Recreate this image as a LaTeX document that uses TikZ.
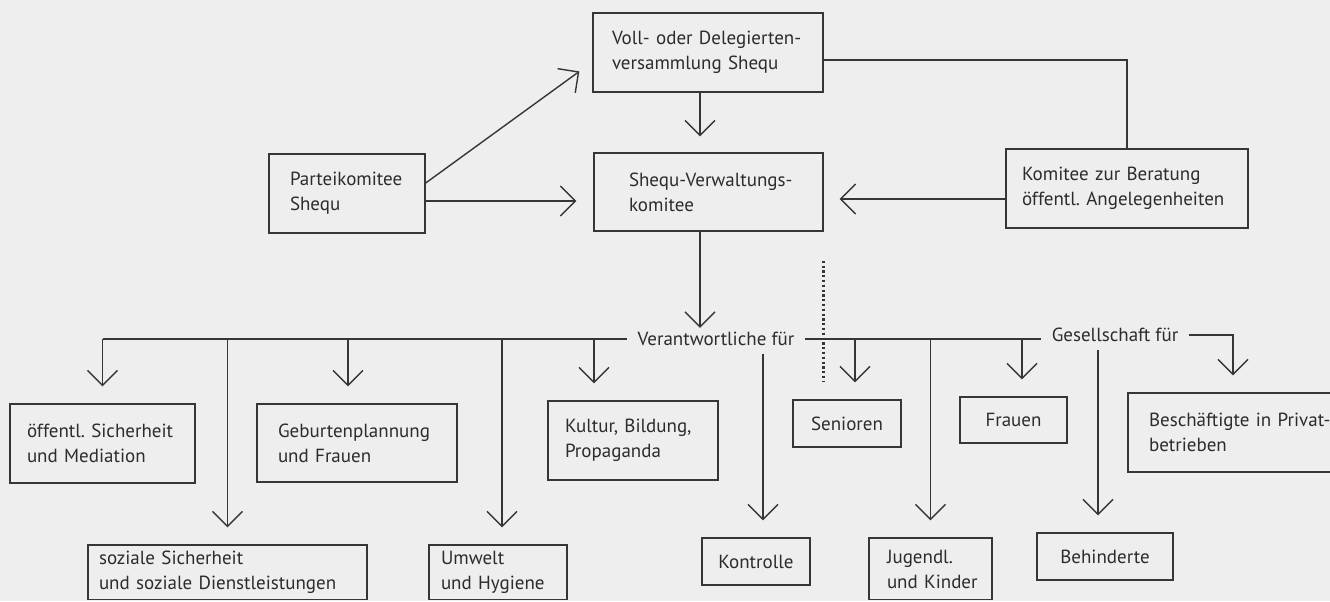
\documentclass[tikz,border=0pt]{standalone}
\usepackage{fontspec}
\setmainfont{PT Sans}
\frenchspacing
\usetikzlibrary{arrows.meta,calc}
\definecolor{ink}{HTML}{363636}
\definecolor{txt}{HTML}{2C2C2C}
\definecolor{paper}{HTML}{EEEEEE}
\tikzset{
  box/.style={draw=ink, line width=0.7pt, text=txt, rectangle, inner ysep=0pt,
    font=\fontsize{9.5}{12.5}\selectfont,
    execute at begin node={\exhyphenpenalty=10000 \hyphenpenalty=10000 \hbadness=10000 \hfuzz=200pt}},
  lbl/.style={text=txt, inner xsep=5pt, inner ysep=0pt, font=\fontsize{9.5}{12.5}\selectfont},
  conn/.style={draw=ink, line width=0.7pt},
  arr/.style={conn, -{Straight Barb[length=7.5pt,width=15pt,line width=0.7pt]}, shorten >=8.5pt},
  dotline/.style={draw=ink, line width=1.3pt, dash pattern=on 1.1pt off 1.3pt},
}
% \bx[options]{name}{x1}{y1}{x2}{y2}{pad}{text}   (pixel coordinates)
\newcommand\bx[8][align=left]{%
  \pgfmathsetmacro\bxcx{(#3+#5)/2}%
  \pgfmathsetmacro\bxcy{(#4+#6)/2}%
  \pgfmathsetmacro\bxtw{(#5-#3)*0.5-#7}%
  \pgfmathsetmacro\bxbh{(#6-#4)*0.5}%
  \pgfmathsetmacro\bxpad{#7*0.5}%
  \node[box,#1,inner xsep=\bxpad pt,text width=\bxtw pt,minimum height=\bxbh pt] (#2) at (\bxcx,\bxcy) {#8};%
}
\begin{document}
\begin{tikzpicture}[x=0.5pt,y=-0.5pt]
\useasboundingbox (0,0) rectangle (1330,601);
\fill[paper] (0,0) rectangle (1330,601);
\clip (0,0) rectangle (1330,599);

% top boxes
\bx{voll}{593}{13}{823}{92}{19}{\mbox{Voll- oder Delegierten-}\\\mbox{versammlung Shequ}}
\bx{verw}{594}{153}{823}{231}{35}{\mbox{Shequ-Verwaltungs-}\\\mbox{komitee}}
\bx{partei}{269}{154}{425}{233}{21}{\mbox{Parteikomitee}\\\mbox{Shequ}}
\bx{komitee}{1006}{149}{1248}{228}{16}{\mbox{Komitee zur Beratung}\\\mbox{öffentl. Angelegenheiten}}

% middle row
\bx{oeff}{10}{404}{195}{483}{17}{\mbox{öffentl. Sicherheit}\\\mbox{und Mediation}}
\bx{geb}{257}{404}{457}{482}{21}{\mbox{Geburtenplannung}\\\mbox{und Frauen}}
\bx{kultur}{548}{401}{718}{480}{17}{\mbox{Kultur, Bildung,}\\\mbox{Propaganda}}
\bx[align=center]{sen}{793}{400}{901}{447}{10}{Senioren}
\bx[align=center]{frauen}{960}{397}{1067}{443}{10}{Frauen}
\bx{besch}{1128}{393}{1335}{472}{21}{\mbox{Beschäftigte in Privat-}\\\mbox{betrieben}}

% bottom row
\bx{soz}{88}{545}{367}{600}{11}{\mbox{soziale Sicherheit}\\\mbox{und soziale Dienstleistungen}}
\bx{umwelt}{429}{545}{567}{600}{12}{\mbox{Umwelt}\\\mbox{und Hygiene}}
\bx[align=center]{kontr}{702}{538}{810}{585}{10}{Kontrolle}
\bx{jug}{869}{538}{992}{600}{18}{\mbox{Jugendl.}\\\mbox{und Kinder}}
\bx[align=center]{beh}{1037}{533}{1173}{580}{10}{Behinderte}

% labels
\node[lbl] (vf) at (716,339) {Verantwortliche für};
\node[lbl] (gf) at (1115,335) {Gesellschaft für};

% helper coordinates for branch positions
\coordinate (verwx) at ([shift={(-8.5,0)}]verw.south);
\coordinate (vollx) at ([shift={(-8,0)}]voll.south);
\coordinate (gebx) at ([shift={(-9,0)}]geb.north);
\coordinate (kulx) at ([shift={(-39,0)}]kultur.north);
\coordinate (umx) at ([shift={(4,0)}]umwelt.north);
\coordinate (kox) at ([shift={(7,0)}]kontr.north);
\coordinate (senx) at ([shift={(8,0)}]sen.north);
\coordinate (frx) at ([shift={(8.5,0)}]frauen.north);
\coordinate (behx) at ([shift={(-7,0)}]beh.north);
\coordinate (bex) at ([shift={(1.5,0)}]besch.north);

% upper connectors
\draw[arr, shorten >=8pt] ([shift={(0,-10.5)}]partei.east) -- ([shift={(0,9.5)}]voll.west);
\draw[arr] ([shift={(0,7.5)}]partei.east) -- ([shift={(0,9)}]verw.west);
\draw[arr, shorten >=8pt] (vollx) -- (vollx |- verw.north);
\draw[conn] ([shift={(0,7.5)}]voll.east) -| (komitee.north);
\draw[arr, shorten >=8pt] ([shift={(0,10.5)}]komitee.west) -- ([shift={(0,7)}]verw.east);
\draw[arr, shorten >=2pt] (verwx) -- (verwx |- vf.north);
\draw[dotline, shorten <=14.5pt, shorten >=8.5pt] (verw.south east) -- (verw.south east |- sen.north);

% Verantwortliche für
\draw[conn] (vf.west) -- (vf.west -| oeff.north);
\draw[arr] (vf.west -| oeff.north) -- (oeff.north);
\draw[arr] (vf.west -| soz.north) -- (soz.north);
\draw[arr] (gebx |- vf.west) -- (gebx);
\draw[arr] (umx |- vf.west) -- (umx);
\draw[arr] (kulx |- vf.west) -- (kulx);
\draw[arr, shorten <=4pt] (kox |- vf.south) -- (kox);
\draw[conn] (vf.east) -- (vf.east -| gf.west);
\draw[arr] (senx |- vf.east) -- (senx);
\draw[arr] (jug.north |- vf.east) -- (jug.north);
\draw[arr] (frx |- vf.east) -- (frx);

% Gesellschaft für
\draw[arr] (gf.east) -| (bex);
\draw[arr, shorten <=4pt] (behx |- gf.south) -- (behx);
\end{tikzpicture}
\end{document}
